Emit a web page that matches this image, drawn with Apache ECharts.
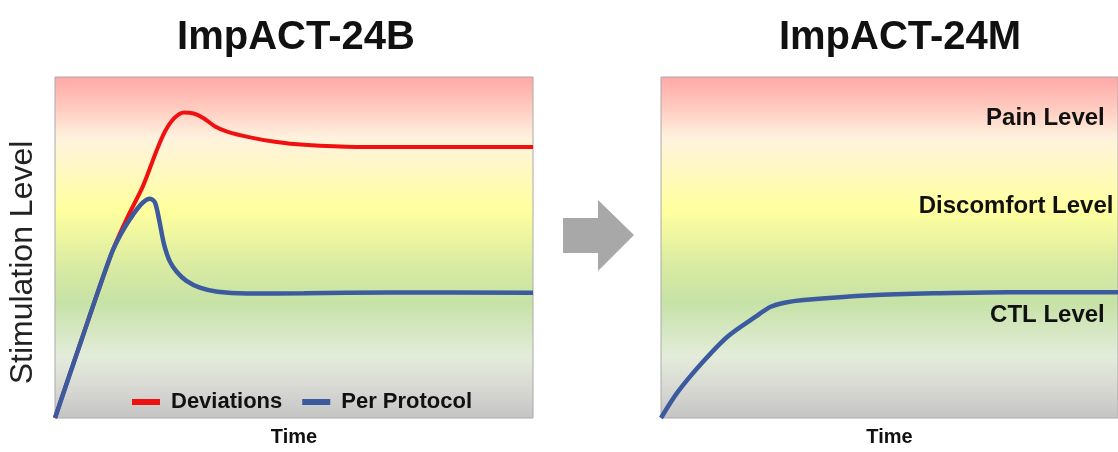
<!DOCTYPE html>
<html>
<head>
<meta charset="utf-8">
<script src="https://cdn.jsdelivr.net/npm/echarts@6/dist/echarts.min.js"></script>
<style>
  html, body { margin: 0; padding: 0; background: #fff; }
  #chart { width: 1118px; height: 452px; }
</style>
</head>
<body>
<div id="chart"></div>
<script>
// curves, x = time (0-100), y = stimulation (0-100)
var deviations = [
  [0, 0], [11.7, 47.8], [15, 58.4], [18.4, 68.0], [21.0, 77.5], [23.0, 84.0],
  [25.0, 88.0], [27.0, 89.6], [29.0, 89.3], [31.0, 88.0], [33.5, 85.5],
  [36.0, 84.0], [40.8, 82.3], [46.0, 81.0], [52.1, 80.1], [63.2, 79.5], [100, 79.5]
];
var perProtocol = [
  [0, 0], [5.6, 23.1], [11.7, 47.8], [14.0, 54.5], [16.5, 60.0], [18.4, 63.2],
  [19.9, 64.3], [20.9, 63.2], [21.8, 58.0], [22.8, 51.0], [24.0, 46.0],
  [25.5, 42.8], [27.5, 40.2], [30.3, 38.2], [34.0, 37.0], [40.0, 36.5],
  [52.1, 36.6], [70, 36.8], [100, 36.7]
];
var improved = [
  [0, 0], [3.6, 7.5], [8.8, 15.9], [14.6, 23.9], [20.7, 29.7], [24.0, 32.6],
  [27.0, 33.8], [31.2, 34.6], [46.0, 36.0], [61.1, 36.6], [75.9, 36.9], [100, 36.9]
];
var levelNames = ['Pain Level', 'Discomfort Level', 'CTL Level'];
var levelX = [97.1, 99.0, 97.1];
var levelY = [87.9, 62.0, 30.0];

var panelTitles = ['ImpACT-24B', 'ImpACT-24M'];

(function () {
  var myChart = echarts.init(document.getElementById('chart'));

  var bg = new echarts.graphic.LinearGradient(0, 0, 0, 1, [
    { offset: 0, color: '#ffa8a8' },
    { offset: 0.08, color: '#ffc6bc' },
    { offset: 0.18, color: '#fff2de' },
    { offset: 0.39, color: '#ffff9e' },
    { offset: 0.55, color: '#daeba2' },
    { offset: 0.66, color: '#c6e2a6' },
    { offset: 0.82, color: '#e4ecdb' },
    { offset: 0.92, color: '#d6d6d2' },
    { offset: 1, color: '#c4c4c4' }
  ]);

  var gridBase = { top: 77, bottom: 26, show: true, backgroundColor: bg, borderColor: '#aaaaaa', borderWidth: 1 };
  var axisHidden = { axisLine: { show: false }, axisTick: { show: false }, axisLabel: { show: false }, splitLine: { show: false } };
  var nameFont = { fontFamily: 'Liberation Sans, Arial', fontWeight: 'bold', fontSize: 20, color: '#111' };

  var levelPoints = levelNames.map(function (n, i) {
    return { name: n, coord: [levelX[i], levelY[i]] };
  });

  var option = {
    animation: false,
    textStyle: { fontFamily: 'Liberation Sans, Arial' },
    title: panelTitles.map(function (t, i) {
      return {
        text: t, left: i === 0 ? 291 : 895, top: 13, textAlign: 'center',
        textStyle: { fontFamily: 'Liberation Sans, Arial', fontWeight: 'bold', fontSize: 40, color: '#111' }
      };
    }),
    grid: [
      Object.assign({ left: 55, right: 585 }, gridBase),
      Object.assign({ left: 661, right: -21 }, gridBase)
    ],
    xAxis: [0, 1].map(function (i) {
      return Object.assign({
        type: 'value', gridIndex: i, min: 0, max: 100,
        name: 'Time', nameLocation: 'middle', nameGap: 9, nameTextStyle: nameFont
      }, axisHidden);
    }),
    yAxis: [0, 1].map(function (i) {
      return Object.assign({
        type: 'value', gridIndex: i, min: 0, max: 100,
        name: i === 0 ? 'Stimulation Level' : '', nameLocation: 'middle', nameGap: 16,
        nameTextStyle: { fontFamily: 'Liberation Sans, Arial', fontSize: 32, color: '#222', padding: [0, 30, 0, 0] }
      }, axisHidden);
    }),
    legend: {
      left: 127, top: 386, itemWidth: 28, itemHeight: 6, itemGap: 20, icon: 'rect',
      data: ['Deviations', 'Per Protocol'],
      textStyle: { fontFamily: 'Liberation Sans, Arial', fontWeight: 'bold', fontSize: 22, color: '#111', padding: [0, 0, 0, 6] }
    },
    graphic: [{
      type: 'polygon',
      shape: { points: [[563, 218], [598, 218], [598, 200], [634, 235], [598, 271], [598, 253], [563, 253]] },
      style: { fill: '#a8a8a8' }
    }],
    series: [
      {
        name: 'Deviations', type: 'line', xAxisIndex: 0, yAxisIndex: 0, data: deviations,
        smooth: 0.3, showSymbol: false, color: '#f01010',
        lineStyle: { width: 4, color: '#f01010' }
      },
      {
        name: 'Per Protocol', type: 'line', xAxisIndex: 0, yAxisIndex: 0, data: perProtocol,
        smooth: 0.3, showSymbol: false, color: '#3c5a9e',
        lineStyle: { width: 4.5, color: '#3c5a9e' }
      },
      {
        name: 'ImpACT-24M', type: 'line', xAxisIndex: 1, yAxisIndex: 1, data: improved,
        smooth: 0.3, showSymbol: false, color: '#3c5a9e',
        lineStyle: { width: 4.5, color: '#3c5a9e' },
        markPoint: {
          symbol: 'circle', symbolSize: 0, data: levelPoints,
          label: {
            show: true, position: 'left', distance: 0, formatter: '{b}',
            fontFamily: 'Liberation Sans, Arial', fontWeight: 'bold', fontSize: 24, color: '#111'
          }
        }
      }
    ]
  };
  myChart.setOption(option);
  window.addEventListener('resize', function () {
    myChart.resize();
  });
})();
</script>
</body>
</html>
